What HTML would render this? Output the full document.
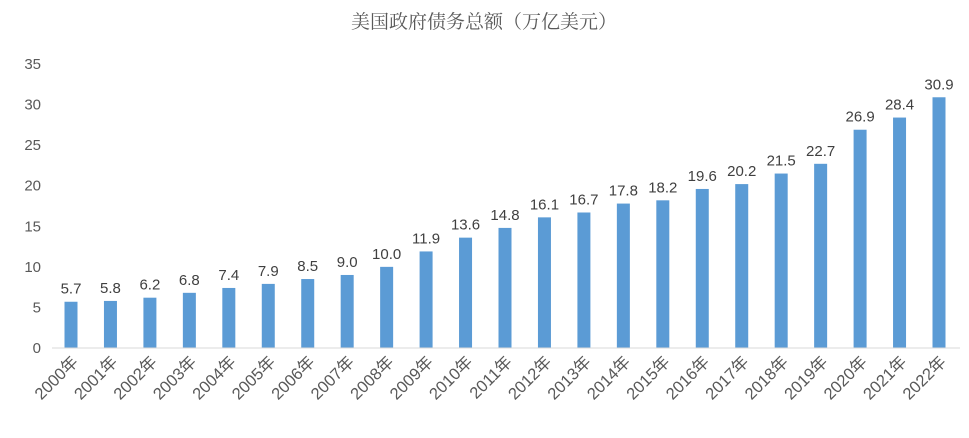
<!DOCTYPE html>
<html><head><meta charset="utf-8"><style>
body{margin:0;background:#fff;}
svg text{font-family:"Liberation Sans","Noto Sans CJK SC",sans-serif;}
</style></head><body>
<svg id="chart" width="969" height="433" xmlns="http://www.w3.org/2000/svg">
<rect x="0" y="0" width="969" height="433" fill="#fff"/>
<text x="484" y="28" text-anchor="middle" font-size="19" fill="#595959" style="font-family:'Liberation Serif','Noto Serif CJK SC',serif">美国政府债务总额（万亿美元）</text>
<g id="yaxis"></g>
<g id="bars"></g>
<g id="xaxis"></g>
</svg>
<script>
const categories=["2000年","2001年","2002年","2003年","2004年","2005年","2006年","2007年","2008年","2009年","2010年","2011年","2012年","2013年","2014年","2015年","2016年","2017年","2018年","2019年","2020年","2021年","2022年"];
const values=[5.7,5.8,6.2,6.8,7.4,7.9,8.5,9.0,10.0,11.9,13.6,14.8,16.1,16.7,17.8,18.2,19.6,20.2,21.5,22.7,26.9,28.4,30.9];
const yTicks=[0,5,10,15,20,25,30,35];
const NS="http://www.w3.org/2000/svg";
const y0=348,yTop=64,yMax=35;
const yS=v=>y0-(y0-yTop)*v/yMax;
const x0=71,step=(939-71)/22;
const xS=i=>x0+i*step;
function mk(tag,attrs,parent){const e=document.createElementNS(NS,tag);for(const k in attrs)e.setAttribute(k,attrs[k]);parent.appendChild(e);return e;}
const ya=document.getElementById('yaxis'),bg=document.getElementById('bars'),xa=document.getElementById('xaxis');
yTicks.forEach(t=>{
  const tx=mk('text',{x:41,y:yS(t)+5,'text-anchor':'end','font-size':15,fill:'#595959'},ya);
  
  
  tx.textContent=t;
});
const ax=mk('line',{x1:52,x2:960,y1:y0,y2:y0,stroke:'#d9d9d9','stroke-width':1},xa);


values.forEach((v,i)=>{
  const cx=xS(i);
  const r=mk('rect',{x:cx-6.5,y:yS(v),width:13,height:y0-yS(v),fill:'#5b9bd5'},bg);
  
  
  const lb=mk('text',{x:cx,y:yS(v)-8,'text-anchor':'middle','font-size':15,fill:'#404040'},bg);
  
  
  lb.textContent=v.toFixed(1);
  const xl=mk('text',{x:0,y:0,'text-anchor':'end','font-size':16.5,fill:'#595959',transform:`translate(${cx+8},${y0+15}) rotate(-45)`},xa);
  
  
  xl.textContent=categories[i];
});
</script>
</body></html>
